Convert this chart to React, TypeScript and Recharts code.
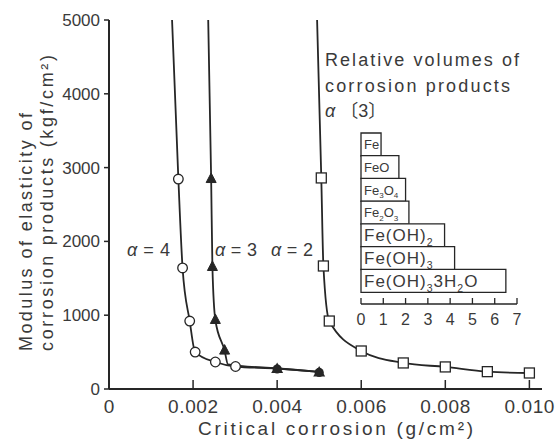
import React from 'react';
import { ComposedChart, Line, Scatter, XAxis, YAxis, BarChart, Bar, LabelList } from 'recharts';

const FONT = '"Liberation Sans", Arial, "Noto Sans CJK JP", sans-serif';
const INK = '#262626';
const TXT = '#3a3a3a';

// main axes
const xTicks = [0, 0.002, 0.004, 0.006, 0.008, 0.01];
const xTickLabels = ['0', '0.002', '0.004', '0.006', '0.008', '0.010'];
const yTicks = [0, 1000, 2000, 3000, 4000, 5000];

// alpha = 4 (open circles)
const a4CurveX = [0.0015, 0.00165, 0.00175, 0.00192, 0.00205, 0.00253, 0.00301, 0.004, 0.005];
const a4CurveY = [5000, 2845, 1640, 921, 501, 366, 305, 278, 231];
const a4PointX = [0.00165, 0.00175, 0.00192, 0.00205, 0.00253, 0.00301];
const a4PointY = [2845, 1640, 921, 501, 366, 305];

// alpha = 3 (filled triangles)
const a3CurveX = [0.00236, 0.00243, 0.00246, 0.00253, 0.00275, 0.00283, 0.004, 0.005];
const a3CurveY = [5000, 2845, 1653, 935, 520, 335, 278, 231];
const a3PointX = [0.00243, 0.00246, 0.00253, 0.00275];
const a3PointY = [2845, 1653, 935, 520];

// points shared by alpha = 3 and alpha = 4
const sharedPointX = [0.004, 0.005];
const sharedPointY = [278, 231];

// alpha = 2 (open squares)
const a2CurveX = [0.00495, 0.00505, 0.0051, 0.00524, 0.006, 0.007, 0.008, 0.009, 0.01];
const a2CurveY = [5000, 2860, 1667, 921, 515, 353, 299, 235, 217];
const a2PointX = [0.00505, 0.0051, 0.00524, 0.006, 0.007, 0.008, 0.009, 0.01];
const a2PointY = [2860, 1667, 921, 515, 353, 299, 235, 217];

// inset: relative volumes of corrosion products
const productNames = ['Fe', 'FeO', 'Fe₃O₄', 'Fe₂O₃', 'Fe(OH)₂', 'Fe(OH)₃', 'Fe(OH)₃3H₂O'];
const productVolumes = [0.9, 1.7, 2.0, 2.15, 3.75, 4.2, 6.5];
const insetTicks = [0, 1, 2, 3, 4, 5, 6, 7];

const zip = (xs: number[], ys: number[]) => xs.map((x, i) => ({ x, y: ys[i] }));

const a4Curve = zip(a4CurveX, a4CurveY);
const a4Points = zip(a4PointX, a4PointY);
const a3Curve = zip(a3CurveX, a3CurveY);
const a3Points = zip(a3PointX, a3PointY);
const sharedPoints = zip(sharedPointX, sharedPointY);
const a2Curve = zip(a2CurveX, a2CurveY);
const a2Points = zip(a2PointX, a2PointY);
const insetData = productNames.map((name, i) => ({ name, v: productVolumes[i] }));

const Circle = (p: any) => (
  <circle cx={p.cx} cy={p.cy} r={4.8} fill="#fff" stroke={INK} strokeWidth={1.3} />
);
const Square = (p: any) => (
  <rect x={p.cx - 5} y={p.cy - 5} width={10} height={10} fill="#fff" stroke={INK} strokeWidth={1.3} />
);
const Tri = (p: any) => (
  <path d={`M${p.cx},${p.cy - 6} L${p.cx + 5},${p.cy + 3.5} L${p.cx - 5},${p.cy + 3.5} Z`} fill={INK} stroke={INK} strokeWidth={1} />
);
const Blob = (p: any) => (
  <g>
    <circle cx={p.cx} cy={p.cy + 0.5} r={4.6} fill={INK} />
    <path d={`M${p.cx},${p.cy - 6} L${p.cx + 6},${p.cy + 4.5} L${p.cx - 6},${p.cy + 4.5} Z`} fill={INK} />
  </g>
);

const XTick = (p: any) => {
  const { x, y, payload, index } = p;
  const i = xTicks.indexOf(payload.value);
  const label = i >= 0 ? xTickLabels[i] : String(payload.value);
  return (
    <g>
      {payload.value !== 0 && <line x1={x} x2={x} y1={y} y2={y - 9} stroke={INK} strokeWidth={1.5} />}
      <text x={x} y={y + 24} textAnchor="middle" fontSize={19} fill={TXT} fontFamily={FONT}
        textLength={label.length > 1 ? 50 : undefined} lengthAdjust="spacing">{label}</text>
    </g>
  );
};

const InsetTick = (p: any) => {
  const { x, y, payload } = p;
  return (
    <g>
      <line x1={x} x2={x} y1={y} y2={y - 6} stroke={INK} strokeWidth={1.3} />
      <text x={x} y={y + 21} textAnchor="middle" fontSize={16} fill={TXT} fontFamily={FONT}>{payload.value}</text>
    </g>
  );
};

const renderChem = (s: string, fs: number) => {
  const runs: { t: string; sub: boolean }[] = [];
  for (const ch of s) {
    const code = ch.charCodeAt(0);
    const sub = code >= 0x2080 && code <= 0x2089;
    const c = sub ? String.fromCharCode(code - 0x2080 + 48) : ch;
    const last = runs[runs.length - 1];
    if (last && last.sub === sub) last.t += c;
    else runs.push({ t: c, sub });
  }
  const shift = fs * 0.28;
  let down = false;
  return runs.map((r, i) => {
    let dy = 0;
    if (r.sub && !down) { dy = shift; down = true; }
    else if (!r.sub && down) { dy = -shift; down = false; }
    return (
      <tspan key={i} dy={dy} fontSize={r.sub ? fs * 0.62 : fs}>{r.t}</tspan>
    );
  });
};

const ChemLabel = (p: any) => {
  const { x, y, height, value } = p;
  const idx = productNames.indexOf(value);
  const fs = idx < 4 ? 13 : 17;
  return (
    <text x={x + 3} y={y + height / 2 + fs * 0.36} fill={TXT} fontFamily={FONT} fontSize={fs} letterSpacing={idx < 4 ? 0 : 1}>
      {renderChem(String(value), fs)}
    </text>
  );
};

export default function App() {
  const t = { fontFamily: FONT, fill: TXT } as const;
  return (
    <div style={{ position: 'absolute', left: 0, top: 0, width: 558, height: 441, background: '#fff' }}>
      <ComposedChart width={558} height={441} margin={{ top: 20, right: 16, bottom: 0, left: 0 }}>
        <XAxis type="number" dataKey="x" domain={[0, 0.0103]} ticks={xTicks} allowDataOverflow
          height={52} axisLine={{ stroke: INK, strokeWidth: 2 }} tickLine={false} tickSize={0} tickMargin={0}
          tick={<XTick />} interval={0} />
        <YAxis type="number" dataKey="y" domain={[0, 5000]} ticks={yTicks} allowDataOverflow width={109}
          axisLine={{ stroke: INK, strokeWidth: 2 }} tickLine={{ stroke: INK, strokeWidth: 1.5 }} tickSize={5} tickMargin={4}
          tick={{ fontSize: 17, fontFamily: FONT, fill: TXT }} interval={0} />
        <Line data={a4Curve} dataKey="y" type="monotone" stroke={INK} strokeWidth={1.8} dot={false} isAnimationActive={false} />
        <Line data={a3Curve} dataKey="y" type="monotone" stroke={INK} strokeWidth={1.8} dot={false} isAnimationActive={false} />
        <Line data={a2Curve} dataKey="y" type="monotone" stroke={INK} strokeWidth={1.8} dot={false} isAnimationActive={false} />
        <Scatter data={a4Points} dataKey="y" shape={<Circle />} isAnimationActive={false} />
        <Scatter data={a3Points} dataKey="y" shape={<Tri />} isAnimationActive={false} />
        <Scatter data={sharedPoints} dataKey="y" shape={<Blob />} isAnimationActive={false} />
        <Scatter data={a2Points} dataKey="y" shape={<Square />} isAnimationActive={false} />
      </ComposedChart>

      <div style={{ position: 'absolute', left: 340, top: 125 }}>
        <BarChart width={200} height={205} data={insetData} layout="vertical" barCategoryGap={0}
          margin={{ top: 8, right: 23, bottom: 0, left: 21 }}>
          <XAxis type="number" domain={[0, 7]} ticks={insetTicks} height={26} interval={0}
            axisLine={{ stroke: INK, strokeWidth: 1.5 }} tickLine={false} tickSize={0} tickMargin={0} tick={<InsetTick />} />
          <YAxis type="category" dataKey="name" hide padding={{ top: 0, bottom: 12 }} />
          <Bar dataKey="v" fill="#fff" stroke={INK} strokeWidth={1.3} isAnimationActive={false}>
            <LabelList dataKey="name" content={<ChemLabel />} />
          </Bar>
        </BarChart>
      </div>

      <svg width={558} height={441} style={{ position: 'absolute', left: 0, top: 0, pointerEvents: 'none' }}>
        <text transform="translate(32,351) rotate(-90)" fontSize={18} {...t} textLength={238} lengthAdjust="spacing">Modulus of elasticity of</text>
        <text transform="translate(53,351) rotate(-90)" fontSize={18} {...t} textLength={296} lengthAdjust="spacing">corrosion products (kgf/cm²)</text>
        <text x={198} y={435} fontSize={19} {...t} textLength={275} lengthAdjust="spacing">Critical corrosion (g/cm²)</text>
        <text x={325} y={66} fontSize={18} {...t} textLength={194} lengthAdjust="spacing">Relative volumes of</text>
        <text x={325} y={92} fontSize={18} {...t} textLength={185} lengthAdjust="spacing">corrosion products</text>
        <text x={325} y={117} fontSize={18} {...t}><tspan fontStyle="italic">α</tspan> 〔3〕</text>
        <text x={127} y={256} fontSize={18} {...t} textLength={43} lengthAdjust="spacing"><tspan fontStyle="italic">α</tspan>=4</text>
        <text x={215} y={256} fontSize={18} {...t} textLength={42} lengthAdjust="spacing"><tspan fontStyle="italic">α</tspan>=3</text>
        <text x={271} y={256} fontSize={18} {...t} textLength={42} lengthAdjust="spacing"><tspan fontStyle="italic">α</tspan>=2</text>
      </svg>
    </div>
  );
}
